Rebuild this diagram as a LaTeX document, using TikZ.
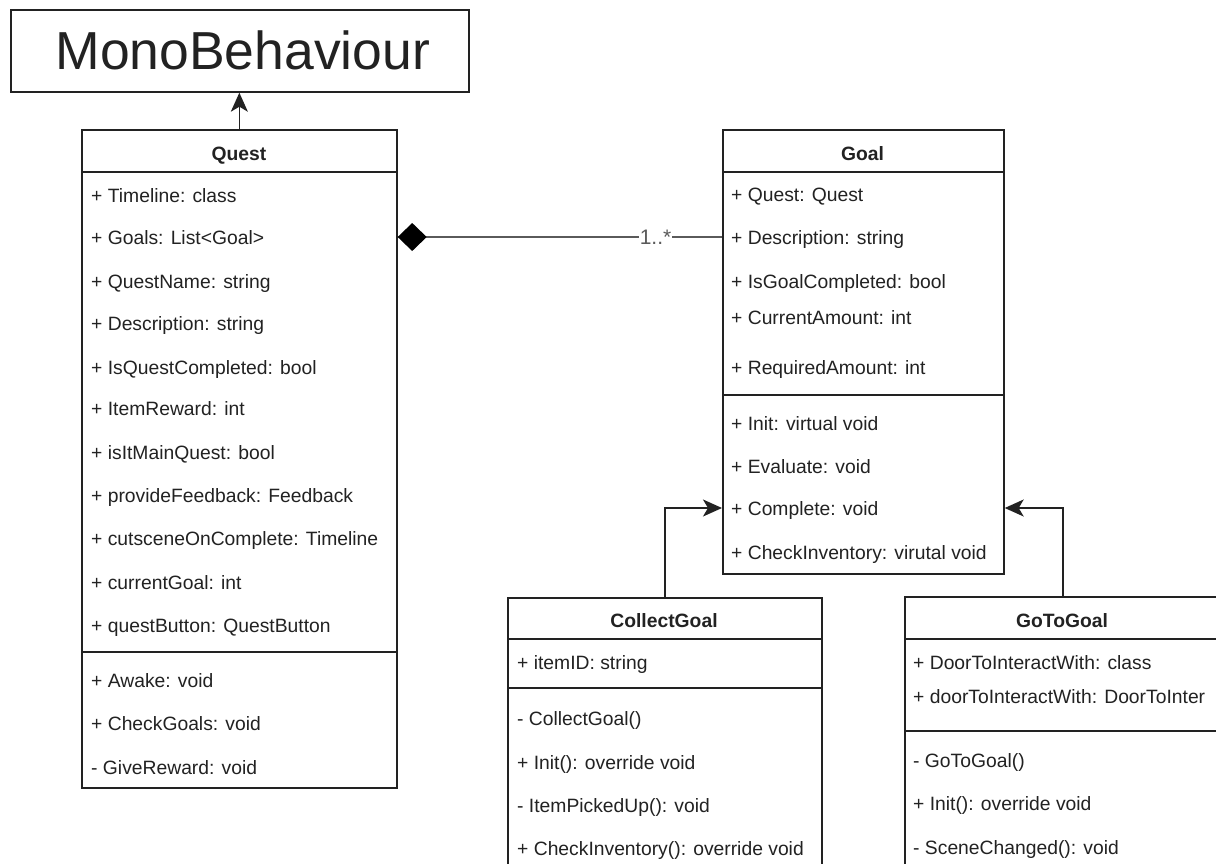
\documentclass[tikz,border=0pt]{standalone}
\usepackage{fontspec}
\setmainfont{Liberation Sans}
\usetikzlibrary{arrows.meta}
\definecolor{ink}{HTML}{222222}
\definecolor{assoc}{HTML}{5A5A5A}
\begin{document}
\begin{tikzpicture}[x=1pt,y=-1pt,
  box/.style={draw=ink, line width=1.7pt, rectangle, anchor=north west, inner sep=0pt},
  attr/.style={anchor=base west, inner sep=0pt, text=ink, font=\fontsize{19.3}{22}\selectfont},
  title/.style={anchor=base, inner sep=0pt, text=ink, font=\fontsize{19.3}{22}\selectfont\bfseries},
  sep/.style={draw=ink, line width=1.7pt},
  inherit/.style={draw=ink, line width=1.6pt, -{Stealth[length=19pt,width=17pt,inset=5pt]}},
  compose/.style={draw=assoc, line width=1.6pt, {Diamond[length=29pt,width=28pt,fill=black,color=black]}-},
  mult/.style={fill=white, inner sep=1pt, text=assoc, font=\fontsize{21}{24}\selectfont},
]
\useasboundingbox (0,0) rectangle (1216,863);
\clip (0,0) rectangle (1216,863);
\fill[white] (0,0) rectangle (1216,863);

% base class
\node[box, minimum width=458pt, minimum height=82pt] (mono) at (10,9) {};
\node[anchor=center, inner sep=0pt, text=ink, font=\fontsize{53.5}{60}\selectfont] (monotxt) at ([xshift=3pt]mono.center) {MonoBehaviour};

% Quest
\node[box, minimum width=315pt, minimum height=658pt] (quest) at (81,129) {};
\node[title] (questtitle) at (239,160) {Quest};
\draw[sep] (quest.west |- 0,172) -- (quest.east |- 0,172);
\draw[sep] (quest.west |- 0,652) -- (quest.east |- 0,652);
\node[attr] (q1) at (91,202) {+ Timeline: class};
\node[attr] (q2) at (91,244) {+ Goals: List<Goal>};
\node[attr] (q3) at (91,288) {+ QuestName: string};
\node[attr] (q4) at (91,330) {+ Description: string};
\node[attr] (q5) at (91,374) {+ IsQuestCompleted: bool};
\node[attr] (q6) at (91,415) {+ ItemReward: int};
\node[attr] (q7) at (91,459) {+ isItMainQuest: bool};
\node[attr] (q8) at (91,502) {+ provideFeedback: Feedback};
\node[attr] (q9) at (91,545) {+ cutsceneOnComplete: Timeline};
\node[attr] (q10) at (91,589) {+ currentGoal: int};
\node[attr] (q11) at (91,632) {+ questButton: QuestButton};
\node[attr] (qm1) at (91,687) {+ Awake: void};
\node[attr] (qm2) at (91,730) {+ CheckGoals: void};
\node[attr] (qm3) at (91,774) {- GiveReward: void};

% Goal
\node[box, minimum width=281pt, minimum height=444pt] (goal) at (722,129) {};
\node[title] (goaltitle) at (862.5,160) {Goal};
\draw[sep] (goal.west |- 0,172) -- (goal.east |- 0,172);
\draw[sep] (goal.west |- 0,395) -- (goal.east |- 0,395);
\node[attr] (g1) at (731,201) {+ Quest: Quest};
\node[attr] (g2) at (731,244) {+ Description: string};
\node[attr] (g3) at (731,288) {+ IsGoalCompleted: bool};
\node[attr] (g4) at (731,324) {+ CurrentAmount: int};
\node[attr] (g5) at (731,374) {+ RequiredAmount: int};
\node[attr] (gm1) at (731,430) {+ Init: virtual void};
\node[attr] (gm2) at (731,473) {+ Evaluate: void};
\node[attr] (gm3) at (731,515) {+ Complete: void};
\node[attr] (gm4) at (731,559) {+ CheckInventory: virutal void};

% CollectGoal
\node[box, minimum width=314pt, minimum height=290pt] (collect) at (507,597) {};
\node[title] (collecttitle) at (664,627) {CollectGoal};
\draw[sep] (collect.west |- 0,639) -- (collect.east |- 0,639);
\draw[sep] (collect.west |- 0,688) -- (collect.east |- 0,688);
\node[attr] (c1) at (517,669) {+ itemID: string};
\node[attr] (cm1) at (517,725) {- CollectGoal()};
\node[attr] (cm2) at (517,769) {+ Init(): override void};
\node[attr] (cm3) at (517,812) {- ItemPickedUp(): void};
\node[attr] (cm4) at (517,855) {+ CheckInventory(): override void};

% GoToGoal
\node[box, minimum width=316pt, minimum height=290pt] (gotogoal) at (904,596) {};
\node[title] (gototitle) at (1062,627) {GoToGoal};
\draw[sep] (gotogoal.west |- 0,639) -- (gotogoal.east |- 0,639);
\draw[sep] (gotogoal.west |- 0,731) -- (gotogoal.east |- 0,731);
\node[attr] (t1) at (913,669) {+ DoorToInteractWith: class};
\node[attr] (t2) at (913,703) {+ doorToInteractWith: DoorToInter};
\node[attr] (tm1) at (913,767) {- GoToGoal()};
\node[attr] (tm2) at (913,810) {+ Init(): override void};
\node[attr] (tm3) at (913,854) {- SceneChanged(): void};

% relations
\draw[inherit] (quest.north) -- (quest.north |- mono.south);
\draw[compose] (quest.east |- 0,237) -- (goal.west |- 0,237)
  node[mult, pos=0.795] (m) {1..*};
\draw[inherit] (collect.north) |- (goal.west |- 0,508);
\draw[inherit] (gotogoal.north) |- (goal.east |- 0,508);
\end{tikzpicture}
\end{document}
